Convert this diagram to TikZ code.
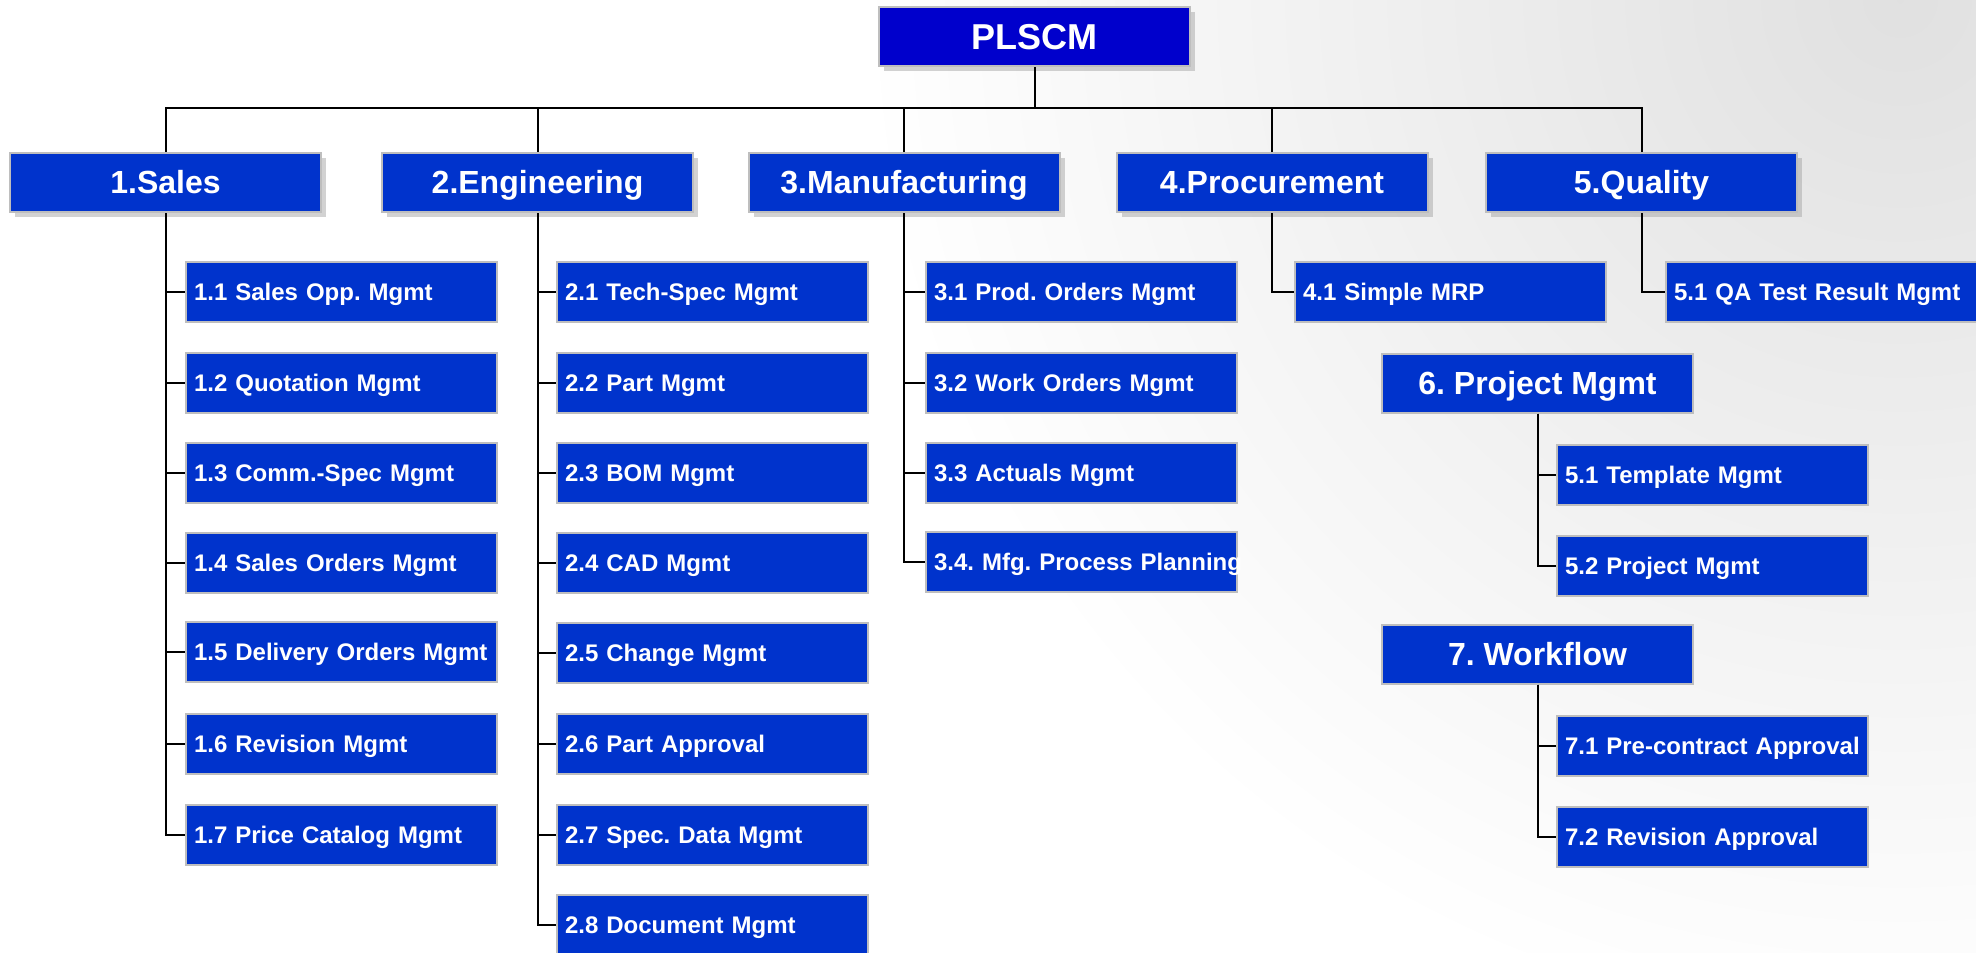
\documentclass[tikz,border=0pt]{standalone}
\usepackage{fontspec}
\setmainfont{Liberation Sans}
\frenchspacing
\usetikzlibrary{shadows}
\definecolor{rootblue}{RGB}{0,0,204}
\definecolor{boxblue}{RGB}{0,51,204}
\definecolor{edgegray}{RGB}{190,190,190}

\begin{document}
\begin{tikzpicture}[x=0.5pt, y=-0.5pt]
    % Define the styles for the boxes
    \tikzset{base/.style={rectangle, draw=edgegray, line width=1pt, text=white, inner xsep=4pt, text depth=0pt}}
    \tikzset{root/.style={base, fill=rootblue, minimum width=155.5pt, minimum height=29.5pt, font=\bfseries\fontsize{18}{20}\selectfont, text height=12.6pt,
        drop shadow={shadow xshift=2.5pt, shadow yshift=-2.5pt, fill=gray!70, opacity=.5}}}
    \tikzset{module/.style={base, fill=boxblue, minimum width=155.5pt, minimum height=29.5pt, font=\bfseries\fontsize{16}{18}\selectfont, text height=11pt}}
    \tikzset{topmodule/.style={module, drop shadow={shadow xshift=2.5pt, shadow yshift=-2.5pt, fill=gray!70, opacity=.5}}}
    \tikzset{task/.style={base, fill=boxblue, anchor=west, minimum height=30pt, text width=147.5pt, align=left, font=\bfseries\fontsize{12}{14}\selectfont, text height=8.6pt}}
    \tikzset{line/.style={draw, line width=1pt}}

    % Background
    \useasboundingbox (0,0) rectangle (1976,953);
    \fill[white] (0,0) rectangle (1976,953);
    \begin{scope}
        \clip (0,0) rectangle (1976,953);
        \shade[inner color=black!12, outer color=white] (1900,0) circle [radius=520pt];
    \end{scope}

    % Root and the five main modules
    \node[root] (plscm) at (1034.5,36.5) {PLSCM};
    \node[topmodule] (sales) at (165.5,182.5) {1.Sales};
    \node[topmodule] (eng) at (537.5,182.5) {2.Engineering};
    \node[topmodule] (mfg) at (904,182.5) {3.Manufacturing};
    \node[topmodule] (proc) at (1272,182.5) {4.Procurement};
    \node[topmodule] (qual) at (1641.5,182.5) {5.Quality};

    \coordinate (bus) at (1034.5,108);
    \draw[line] (plscm.south) -- (bus);
    \draw[line] (bus) -| (sales.north);
    \draw[line] (bus) -| (eng.north);
    \draw[line] (bus) -| (mfg.north);
    \draw[line] (bus) -| (proc.north);
    \draw[line] (bus) -| (qual.north);

    % Sales tasks
    \node[task] (s1) at (185,292) {1.1 Sales Opp. Mgmt};
    \node[task] (s2) at (185,382.5) {1.2 Quotation Mgmt};
    \node[task] (s3) at (185,473) {1.3 Comm.-Spec Mgmt};
    \node[task] (s4) at (185,563) {1.4 Sales Orders Mgmt};
    \node[task] (s5) at (185,652) {1.5 Delivery Orders Mgmt};
    \node[task] (s6) at (185,744) {1.6 Revision Mgmt};
    \node[task] (s7) at (185,835) {1.7 Price Catalog Mgmt};

    % Engineering tasks
    \node[task] (e1) at (556,292) {2.1 Tech-Spec Mgmt};
    \node[task] (e2) at (556,382.5) {2.2 Part Mgmt};
    \node[task] (e3) at (556,473) {2.3 BOM Mgmt};
    \node[task] (e4) at (556,563) {2.4 CAD Mgmt};
    \node[task] (e5) at (556,653) {2.5 Change Mgmt};
    \node[task] (e6) at (556,744) {2.6 Part Approval};
    \node[task] (e7) at (556,835) {2.7 Spec. Data Mgmt};
    \node[task] (e8) at (556,925) {2.8 Document Mgmt};

    % Manufacturing tasks
    \node[task] (m1) at (925,292) {3.1 Prod. Orders Mgmt};
    \node[task] (m2) at (925,382.5) {3.2 Work Orders Mgmt};
    \node[task] (m3) at (925,473) {3.3 Actuals Mgmt};
    \node[task] (m4) at (925,562) {\mbox{3.4. Mfg. Process Planning}};

    % Procurement and quality tasks
    \node[task] (p1) at (1294,292) {4.1 Simple MRP};
    \node[task] (q1) at (1665,292) {5.1 QA Test Result Mgmt};

    % Project and workflow modules
    \node[module] (proj) at (1537.5,383) {6. Project Mgmt};
    \node[task] (j1) at (1556,475) {5.1 Template Mgmt};
    \node[task] (j2) at (1556,566) {5.2 Project Mgmt};

    \node[module] (wf) at (1537.5,654) {7. Workflow};
    \node[task] (w1) at (1556,746) {7.1 Pre-contract Approval};
    \node[task] (w2) at (1556,837) {7.2 Revision Approval};

    % Connectors to the tasks
    \foreach \t in {s1,s2,s3,s4,s5,s6,s7} \draw[line] (sales.south) |- (\t.west);
    \foreach \t in {e1,e2,e3,e4,e5,e6,e7,e8} \draw[line] (eng.south) |- (\t.west);
    \foreach \t in {m1,m2,m3,m4} \draw[line] (mfg.south) |- (\t.west);
    \draw[line] (proc.south) |- (p1.west);
    \draw[line] (qual.south) |- (q1.west);
    \draw[line] (proj.south) |- (j1.west);
    \draw[line] (proj.south) |- (j2.west);
    \draw[line] (wf.south) |- (w1.west);
    \draw[line] (wf.south) |- (w2.west);
\end{tikzpicture}
\end{document}
